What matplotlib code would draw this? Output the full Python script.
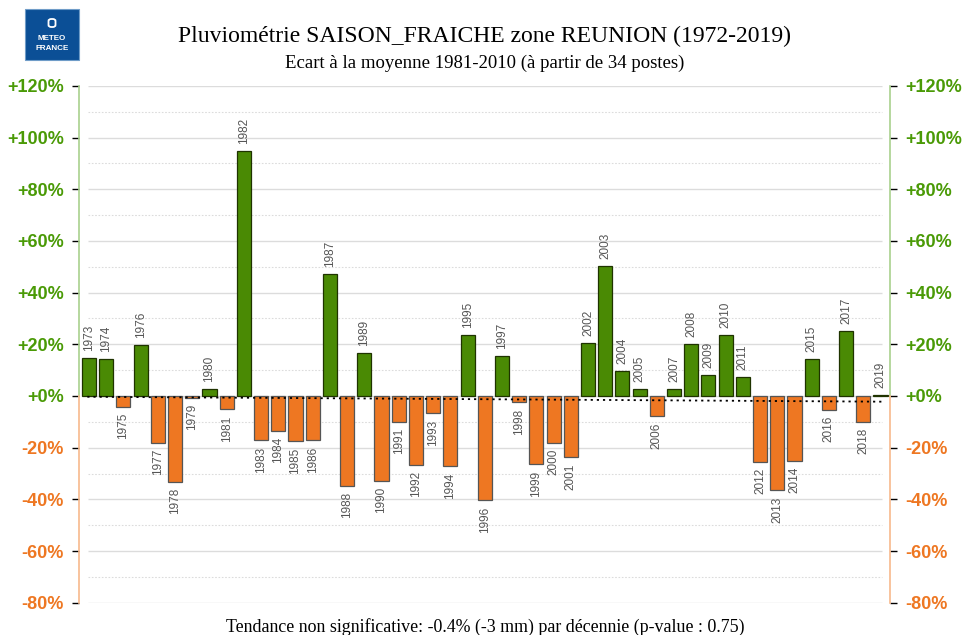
import matplotlib
matplotlib.use('Agg')
import matplotlib.pyplot as plt
from matplotlib.patches import Rectangle, FancyBboxPatch

# data
years = list(range(1973, 2020))
ecart = [14.6, 14.2, -4.1, 19.7, -18.1, -33.2, -0.6, 2.6, -5.2, 95.0,
         -17.2, -13.4, -17.5, -17.2, 47.1, -34.8, 16.8, -32.8, -9.9, -26.6,
         -6.7, -27.2, 23.6, -40.3, 15.4, -2.4, -26.5, -18.1, -23.6, 20.6,
         50.3, 9.7, 2.8, -7.9, 2.6, 20.1, 8.1, 23.7, 7.5, -25.5,
         -36.4, -25.0, 14.2, -5.3, 25.3, -9.9, 0.5]
trend_x = [1972.9, 2019.2]
trend_y = [-0.3, -2.2]
yticks = list(range(-80, 121, 20))

green = '#4a8a04'
orange = '#ee7722'
green_txt = '#4a9a06'
green_axis = '#a9d18e'
orange_axis = '#f7b98c'

plt.rcParams['font.family'] = ['Liberation Sans', 'DejaVu Sans']

fig = plt.figure(figsize=(9.64, 6.35), dpi=100, facecolor='white')
ax = fig.add_axes([0.0820, 0.0509, 0.9232 - 0.0820, 0.8646 - 0.0509])

ax.set_xlim(1972.42, 2019.55)
ax.set_ylim(-80, 120)

# grid
for v in range(-80, 121, 10):
    if v % 20 == 0:
        ax.hlines(v, 1972.94, 2019.06, colors='#dcdcdc', linewidth=1.0, zorder=1)
    else:
        ax.hlines(v, 1972.94, 2019.06, colors='#dcdcdc', linewidth=0.8,
                  linestyles=(0, (1.5, 1.5)), zorder=1)

cols = [green if v >= 0 else orange for v in ecart]
edges = ['#1f3300' if v >= 0 else '#555555' for v in ecart]
ax.bar(years, ecart, width=0.82, color=cols, edgecolor=edges, linewidth=0.9, zorder=3)

for yr, v in zip(years, ecart):
    if v >= 0:
        ax.annotate(str(yr), (yr, v), xytext=(0, 5), textcoords='offset points',
                    rotation=90, ha='center', va='bottom', fontsize=8.5, color='#555555')
    else:
        ax.annotate(str(yr), (yr, v), xytext=(0, -4.5), textcoords='offset points',
                    rotation=90, ha='center', va='top', fontsize=8.5, color='#555555')

ax.plot(trend_x, trend_y, color='black', linestyle=(0, (1.2, 2.2)), linewidth=1.3, zorder=4)

# axes / ticks
for s in ax.spines.values():
    s.set_visible(False)
ax.set_xticks([])
ax.set_yticks(yticks)
ax.set_yticklabels(['%+d%%' % v for v in yticks])
ax.tick_params(axis='y', direction='out', length=5, width=1, pad=6,
               labelsize=13, left=True, right=True, labelleft=True, labelright=True)
for t, v in zip(ax.yaxis.get_major_ticks(), yticks):
    c = green_axis if v >= 0 else orange_axis
    tc = green_txt if v >= 0 else orange
    t.tick1line.set_color(c)
    t.tick2line.set_color(c)
    t.label1.set_color(tc)
    t.label2.set_color(tc)
    t.label1.set_fontweight('bold')
    t.label2.set_fontweight('bold')

tr = ax.get_yaxis_transform()
for xa in (0, 1):
    ax.plot([xa, xa], [0, 120], color=green_axis, linewidth=1.2, transform=tr, clip_on=False)
    ax.plot([xa, xa], [-80, 0], color=orange_axis, linewidth=1.2, transform=tr, clip_on=False)

# titles
fig.text(0.503, 0.942, 'Pluviométrie SAISON_FRAICHE zone REUNION (1972-2019)',
         ha='center', va='center', fontsize=17, family='Liberation Serif')
fig.text(0.503, 0.900, 'Ecart à la moyenne 1981-2010 (à partir de 34 postes)',
         ha='center', va='center', fontsize=13.5, family='Liberation Serif')
fig.text(0.503, 0.012, 'Tendance non significative: -0.4% (-3 mm) par décennie (p-value : 0.75)',
         ha='center', va='center', fontsize=12.9, family='Liberation Serif')

# logo
fig.patches.append(Rectangle((25 / 964, 1 - 60 / 635), 54 / 964, 51 / 635,
                             transform=fig.transFigure, facecolor='#0b4f96',
                             edgecolor='#6f9cc8', linewidth=0.8))
fig.patches.append(FancyBboxPatch((48.5 / 964, 1 - 27 / 635), 7 / 964, 8 / 635,
                                  boxstyle='round,pad=0.0,rounding_size=0.003',
                                  transform=fig.transFigure, facecolor='none',
                                  edgecolor='white', linewidth=1.3))
fig.text(52 / 964, 1 - 39 / 635, 'METEO', ha='center', va='center', fontsize=5.8,
         color='white', fontweight='bold')
fig.text(52 / 964, 1 - 48 / 635, 'FRANCE', ha='center', va='center', fontsize=5.8,
         color='white', fontweight='bold')

plt.savefig('out.png', dpi=100)
